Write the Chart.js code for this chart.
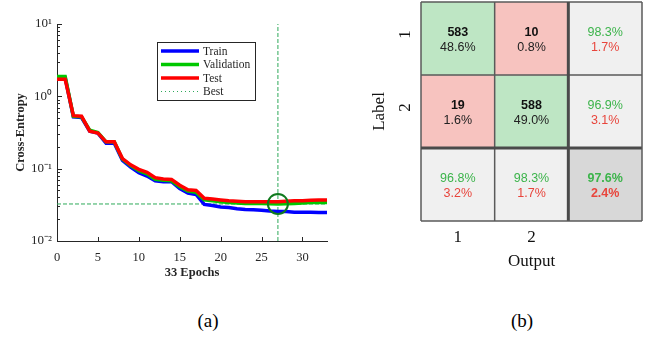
<!DOCTYPE html>
<html><head><meta charset="utf-8">
<script src="https://cdn.jsdelivr.net/npm/chart.js@4.4.1/dist/chart.umd.min.js"></script>
<style>
html,body{margin:0;padding:0;background:#fff;width:648px;height:338px;overflow:hidden;}
#c1{position:absolute;left:0;top:0;}
#c2{position:absolute;left:360px;top:0;}
.cap{position:absolute;font-family:"Liberation Serif",serif;font-size:19px;color:#000;transform:translate(-50%,-50%);top:321px;white-space:nowrap;}
</style></head><body>
<canvas id="c1" width="340" height="290"></canvas>
<canvas id="c2" width="288" height="290"></canvas>
<div class="cap" style="left:208px">(a)</div>
<div class="cap" style="left:522px">(b)</div>
<script>
// ---------- Panel (a) data ----------
const epochs = [0,1,2,3,4,5,6,7,8,9,10,11,12,13,14,15,16,17,18,19,20,21,22,23,24,25,26,27,28,29,30,31,32,33];
const trainLoss = [1.80,1.80,0.52,0.51,0.33,0.31,0.225,0.225,0.130,0.105,0.088,0.079,0.068,0.066,0.066,0.053,0.046,0.044,0.032,0.031,0.0295,0.029,0.028,0.0272,0.027,0.0267,0.026,0.0255,0.0255,0.025,0.025,0.025,0.0248,0.0247];
const validationLoss = [1.88,1.88,0.53,0.52,0.34,0.315,0.235,0.235,0.135,0.110,0.094,0.085,0.071,0.069,0.068,0.056,0.049,0.047,0.037,0.036,0.035,0.034,0.0335,0.033,0.033,0.033,0.0328,0.0325,0.0328,0.033,0.0335,0.034,0.034,0.034];
const testLoss = [1.72,1.72,0.54,0.53,0.33,0.31,0.235,0.235,0.138,0.113,0.098,0.089,0.075,0.072,0.071,0.059,0.051,0.050,0.039,0.038,0.037,0.036,0.0355,0.035,0.035,0.035,0.035,0.035,0.0355,0.036,0.036,0.0365,0.037,0.037];
const bestEpoch = 27;
const bestValue = 0.0325;
const yTickValues = [0.01, 0.1, 1, 10];
const yTickLabels = ['10\u207B\u00B2', '10\u207B\u00B9', '10\u2070', '10\u00B9'];
const xTickValues = [0,5,10,15,20,25,30];
const xAxisTitle = '33 Epochs';
const yAxisTitle = 'Cross-Entropy';
const seriesNames = ['Train','Validation','Test','Best'];

// ---------- Panel (b) data ----------
const classLabels = ['1','2'];
const confusionCounts = [[583,10],[19,588]];
const rowAxisTitle = 'Label';
const colAxisTitle = 'Output';

const SERIF = '"Liberation Serif", "Times New Roman", serif';
const SANS = '"Liberation Sans", Arial, sans-serif';
const AX = '#262626';
const C_TRAIN = '#0000FF', C_VAL = '#00C800', C_TEST = '#FF0000', C_BEST = '#2eaa5a';

const toXY = arr => epochs.map((e,i)=>({x:e,y:arr[i]}));

const axisTicksPlugin = {
  id:'axisTicks',
  beforeDatasetsDraw(chart){
    const {ctx, chartArea:a, scales:{x,y}} = chart;
    ctx.save();
    ctx.strokeStyle = AX; ctx.lineWidth = 1;
    ctx.beginPath();
    y.ticks.forEach(t=>{
      const py = Math.round(y.getPixelForValue(t.value))+0.5;
      const major = yTickValues.some(v=>Math.abs(v-t.value)/v<1e-6);
      const len = major ? 5 : 3;
      ctx.moveTo(a.left, py); ctx.lineTo(a.left+len, py);
    });
    x.ticks.forEach(t=>{
      const px = Math.round(x.getPixelForValue(t.value))+0.5;
      ctx.moveTo(px, a.bottom); ctx.lineTo(px, a.bottom-4);
    });
    ctx.stroke();
    ctx.restore();
  },
  afterDatasetsDraw(chart){
    const {ctx} = chart;
    const lx=157, ly=42, lw=98, lh=58;
    ctx.save();
    ctx.fillStyle='#fff'; ctx.fillRect(lx,ly,lw,lh);
    ctx.strokeStyle=AX; ctx.lineWidth=1; ctx.strokeRect(lx+0.5,ly+0.5,lw,lh);
    const items = [
      {c:C_TRAIN,w:3.5,d:[]},{c:C_VAL,w:3.5,d:[]},{c:C_TEST,w:3.5,d:[]},{c:C_BEST,w:1,d:[1,3]}
    ];
    ctx.font = '11.5px '+SERIF; ctx.textBaseline='middle'; ctx.textAlign='left';
    items.forEach((it,i)=>{
      const yy = 51 + i*13.5;
      ctx.beginPath(); ctx.strokeStyle=it.c; ctx.lineWidth=it.w; ctx.setLineDash(it.d);
      ctx.moveTo(161,yy); ctx.lineTo(199,yy); ctx.stroke();
      ctx.setLineDash([]);
      ctx.fillStyle=AX; ctx.fillText(seriesNames[i], 203, yy+0.5);
    });
    ctx.restore();
  }
};

new Chart(document.getElementById('c1'), {
  type:'line',
  data:{datasets:[
    {label:seriesNames[2], data:toXY(testLoss), borderColor:C_TEST, borderWidth:3.5, pointRadius:0, tension:0, order:1},
    {label:seriesNames[1], data:toXY(validationLoss), borderColor:C_VAL, borderWidth:3.5, pointRadius:0, tension:0, order:2},
    {label:seriesNames[0], data:toXY(trainLoss), borderColor:C_TRAIN, borderWidth:3.5, pointRadius:0, tension:0, order:3},
    {label:'bestH', data:[{x:epochs[0],y:bestValue},{x:epochs[epochs.length-1],y:bestValue}], borderColor:C_BEST, borderWidth:1, borderDash:[4,2], pointRadius:0, order:5},
    {label:'bestV', data:[{x:bestEpoch,y:yTickValues[0]},{x:bestEpoch,y:yTickValues[yTickValues.length-1]}], borderColor:C_BEST, borderWidth:1, borderDash:[4,2], pointRadius:0, order:5},
    {label:'bestPt', data:[{x:bestEpoch,y:bestValue}], showLine:false, pointRadius:10, pointBorderWidth:2, pointBorderColor:'#0f7a1e', pointBackgroundColor:'rgba(0,0,0,0)', order:0}
  ]},
  options:{
    responsive:false, animation:false, devicePixelRatio:1,
    layout:{padding:{left:13,right:13,top:24,bottom:10}},
    plugins:{legend:{display:false}, tooltip:{enabled:false}},
    scales:{
      x:{type:'linear', min:0, max:33,
        afterBuildTicks:s=>{s.ticks = xTickValues.map(v=>({value:v}));},
        afterFit:s=>{s.height=39;},
        grid:{display:false, drawTicks:false},
        border:{display:true,color:AX,width:1},
        ticks:{font:{family:SERIF,size:12.5}, color:AX, padding:9, autoSkip:false, maxRotation:0, includeBounds:false},
        title:{display:true, text:xAxisTitle, font:{family:SERIF,size:12.5,weight:'bold'}, color:AX, padding:0}
      },
      y:{type:'logarithmic', min:yTickValues[0], max:yTickValues[yTickValues.length-1],
        afterBuildTicks:s=>{
          const t=[];
          for(let k=0;k<yTickValues.length-1;k++){ for(let m=1;m<10;m++) t.push({value:m*yTickValues[k]}); }
          t.push({value:yTickValues[yTickValues.length-1]});
          s.ticks=t;
        },
        afterFit:s=>{s.width=44;},
        grid:{display:false, drawTicks:false},
        border:{display:true,color:AX,width:1},
        ticks:{font:{family:SERIF,size:13}, color:AX, padding:5, autoSkip:false,
          callback:(v)=>{const i=yTickValues.findIndex(t=>Math.abs(t-v)/t<1e-6); return i>=0?yTickLabels[i]:'';}},
        title:{display:true, text:yAxisTitle, font:{family:SERIF,size:12.5,weight:'bold'}, color:AX, padding:0}
      }
    }
  },
  plugins:[axisTicksPlugin]
});

// ---------- Panel (b) ----------
const n = classLabels.length;
const total = confusionCounts.flat().reduce((a,b)=>a+b,0);
const G_CELL='#BEE6C4', R_CELL='#F7C3BF', N_CELL='#F0F0F0', T_CELL='#D8D8D8';
const G_TXT='#3cb44b', R_TXT='#e8453c';
const matrixDatasets = [];
for(let r=0;r<=n;r++){
  const data=[], colors=[];
  for(let c=0;c<=n;c++){
    data.push([r, r+1]);
    if(r<n && c<n) colors.push(r===c?G_CELL:R_CELL);
    else if(r===n && c===n) colors.push(T_CELL);
    else colors.push(N_CELL);
  }
  matrixDatasets.push({data, backgroundColor:colors, borderWidth:0, barPercentage:1, categoryPercentage:1, grouped:false});
}
const fmt = v => (v*100).toFixed(1)+'%';

const matrixPlugin = {
  id:'matrixText',
  afterDatasetsDraw(chart){
    const {ctx, scales:{x,y}} = chart;
    ctx.save();
    const cx = c => x.getPixelForValue(c);
    const cy = r => y.getPixelForValue(r+0.5);
    ctx.textAlign='center'; ctx.textBaseline='middle';
    const two = (px,py,t1,f1,c1,t2,f2,c2)=>{
      ctx.font=f1; ctx.fillStyle=c1; ctx.fillText(t1,px,py-6.3);
      ctx.font=f2; ctx.fillStyle=c2; ctx.fillText(t2,px,py+9);
    };
    const B = 'bold 12.5px '+SANS, N = '12.5px '+SANS;
    for(let r=0;r<n;r++){
      for(let c=0;c<n;c++){
        const v=confusionCounts[r][c];
        two(cx(c),cy(r), String(v), B, '#111', fmt(v/total), N, '#222');
      }
      const rowSum = confusionCounts[r].reduce((a,b)=>a+b,0);
      const ok = confusionCounts[r][r]/rowSum;
      two(cx(n),cy(r), fmt(ok), N, G_TXT, fmt(1-ok), N, R_TXT);
    }
    let diag=0;
    for(let c=0;c<n;c++){
      let colSum=0; for(let r=0;r<n;r++) colSum+=confusionCounts[r][c];
      diag+=confusionCounts[c][c];
      const ok = confusionCounts[c][c]/colSum;
      two(cx(c),cy(n), fmt(ok), N, G_TXT, fmt(1-ok), N, R_TXT);
    }
    const acc = diag/total;
    two(cx(n),cy(n), fmt(acc), B, G_TXT, fmt(1-acc), B, R_TXT);
    // grid lines
    for(let i=0;i<=n+1;i++){
      const thick = (i===n);
      ctx.lineWidth = thick?3:1.5; ctx.strokeStyle = thick?'#4a4a4a':'#5a5a5a';
      const px = x.getPixelForValue(i-0.5), py = y.getPixelForValue(i);
      ctx.beginPath(); ctx.moveTo(px, y.getPixelForValue(0)); ctx.lineTo(px, y.getPixelForValue(n+1)); ctx.stroke();
      ctx.beginPath(); ctx.moveTo(x.getPixelForValue(-0.5), py); ctx.lineTo(x.getPixelForValue(n+0.5), py); ctx.stroke();
    }
    ctx.restore();
  }
};

new Chart(document.getElementById('c2'), {
  type:'bar',
  data:{labels:[...classLabels, ''], datasets:matrixDatasets},
  options:{
    responsive:false, animation:false, devicePixelRatio:1,
    layout:{padding:{left:9,right:6,top:2,bottom:18}},
    plugins:{legend:{display:false}, tooltip:{enabled:false}},
    scales:{
      x:{type:'category', offset:true,
        afterFit:s=>{s.height=51; s.paddingLeft=0; s.paddingRight=0;},
        grid:{display:false, drawTicks:false}, border:{display:false},
        ticks:{font:{family:SERIF,size:17}, color:'#111', padding:6, maxRotation:0, autoSkip:false},
        title:{display:true, text:colAxisTitle, font:{family:SERIF,size:17}, color:'#111', padding:0}
      },
      y:{type:'linear', min:0, max:n+1, reverse:true,
        afterBuildTicks:s=>{s.ticks = classLabels.map((l,i)=>({value:i+0.5}));},
        afterFit:s=>{s.width=52; s.paddingTop=0; s.paddingBottom=0;},
        grid:{display:false, drawTicks:false}, border:{display:false},
        ticks:{font:{family:SERIF,size:17}, color:'#111', padding:11, labelOffset:-4, minRotation:90, maxRotation:90, crossAlign:'center', autoSkip:false,
          callback:(v,i)=>classLabels[i]},
        title:{display:true, text:rowAxisTitle, font:{family:SERIF,size:17}, color:'#111', padding:0}
      }
    }
  },
  plugins:[matrixPlugin]
});
</script>
</body></html>
